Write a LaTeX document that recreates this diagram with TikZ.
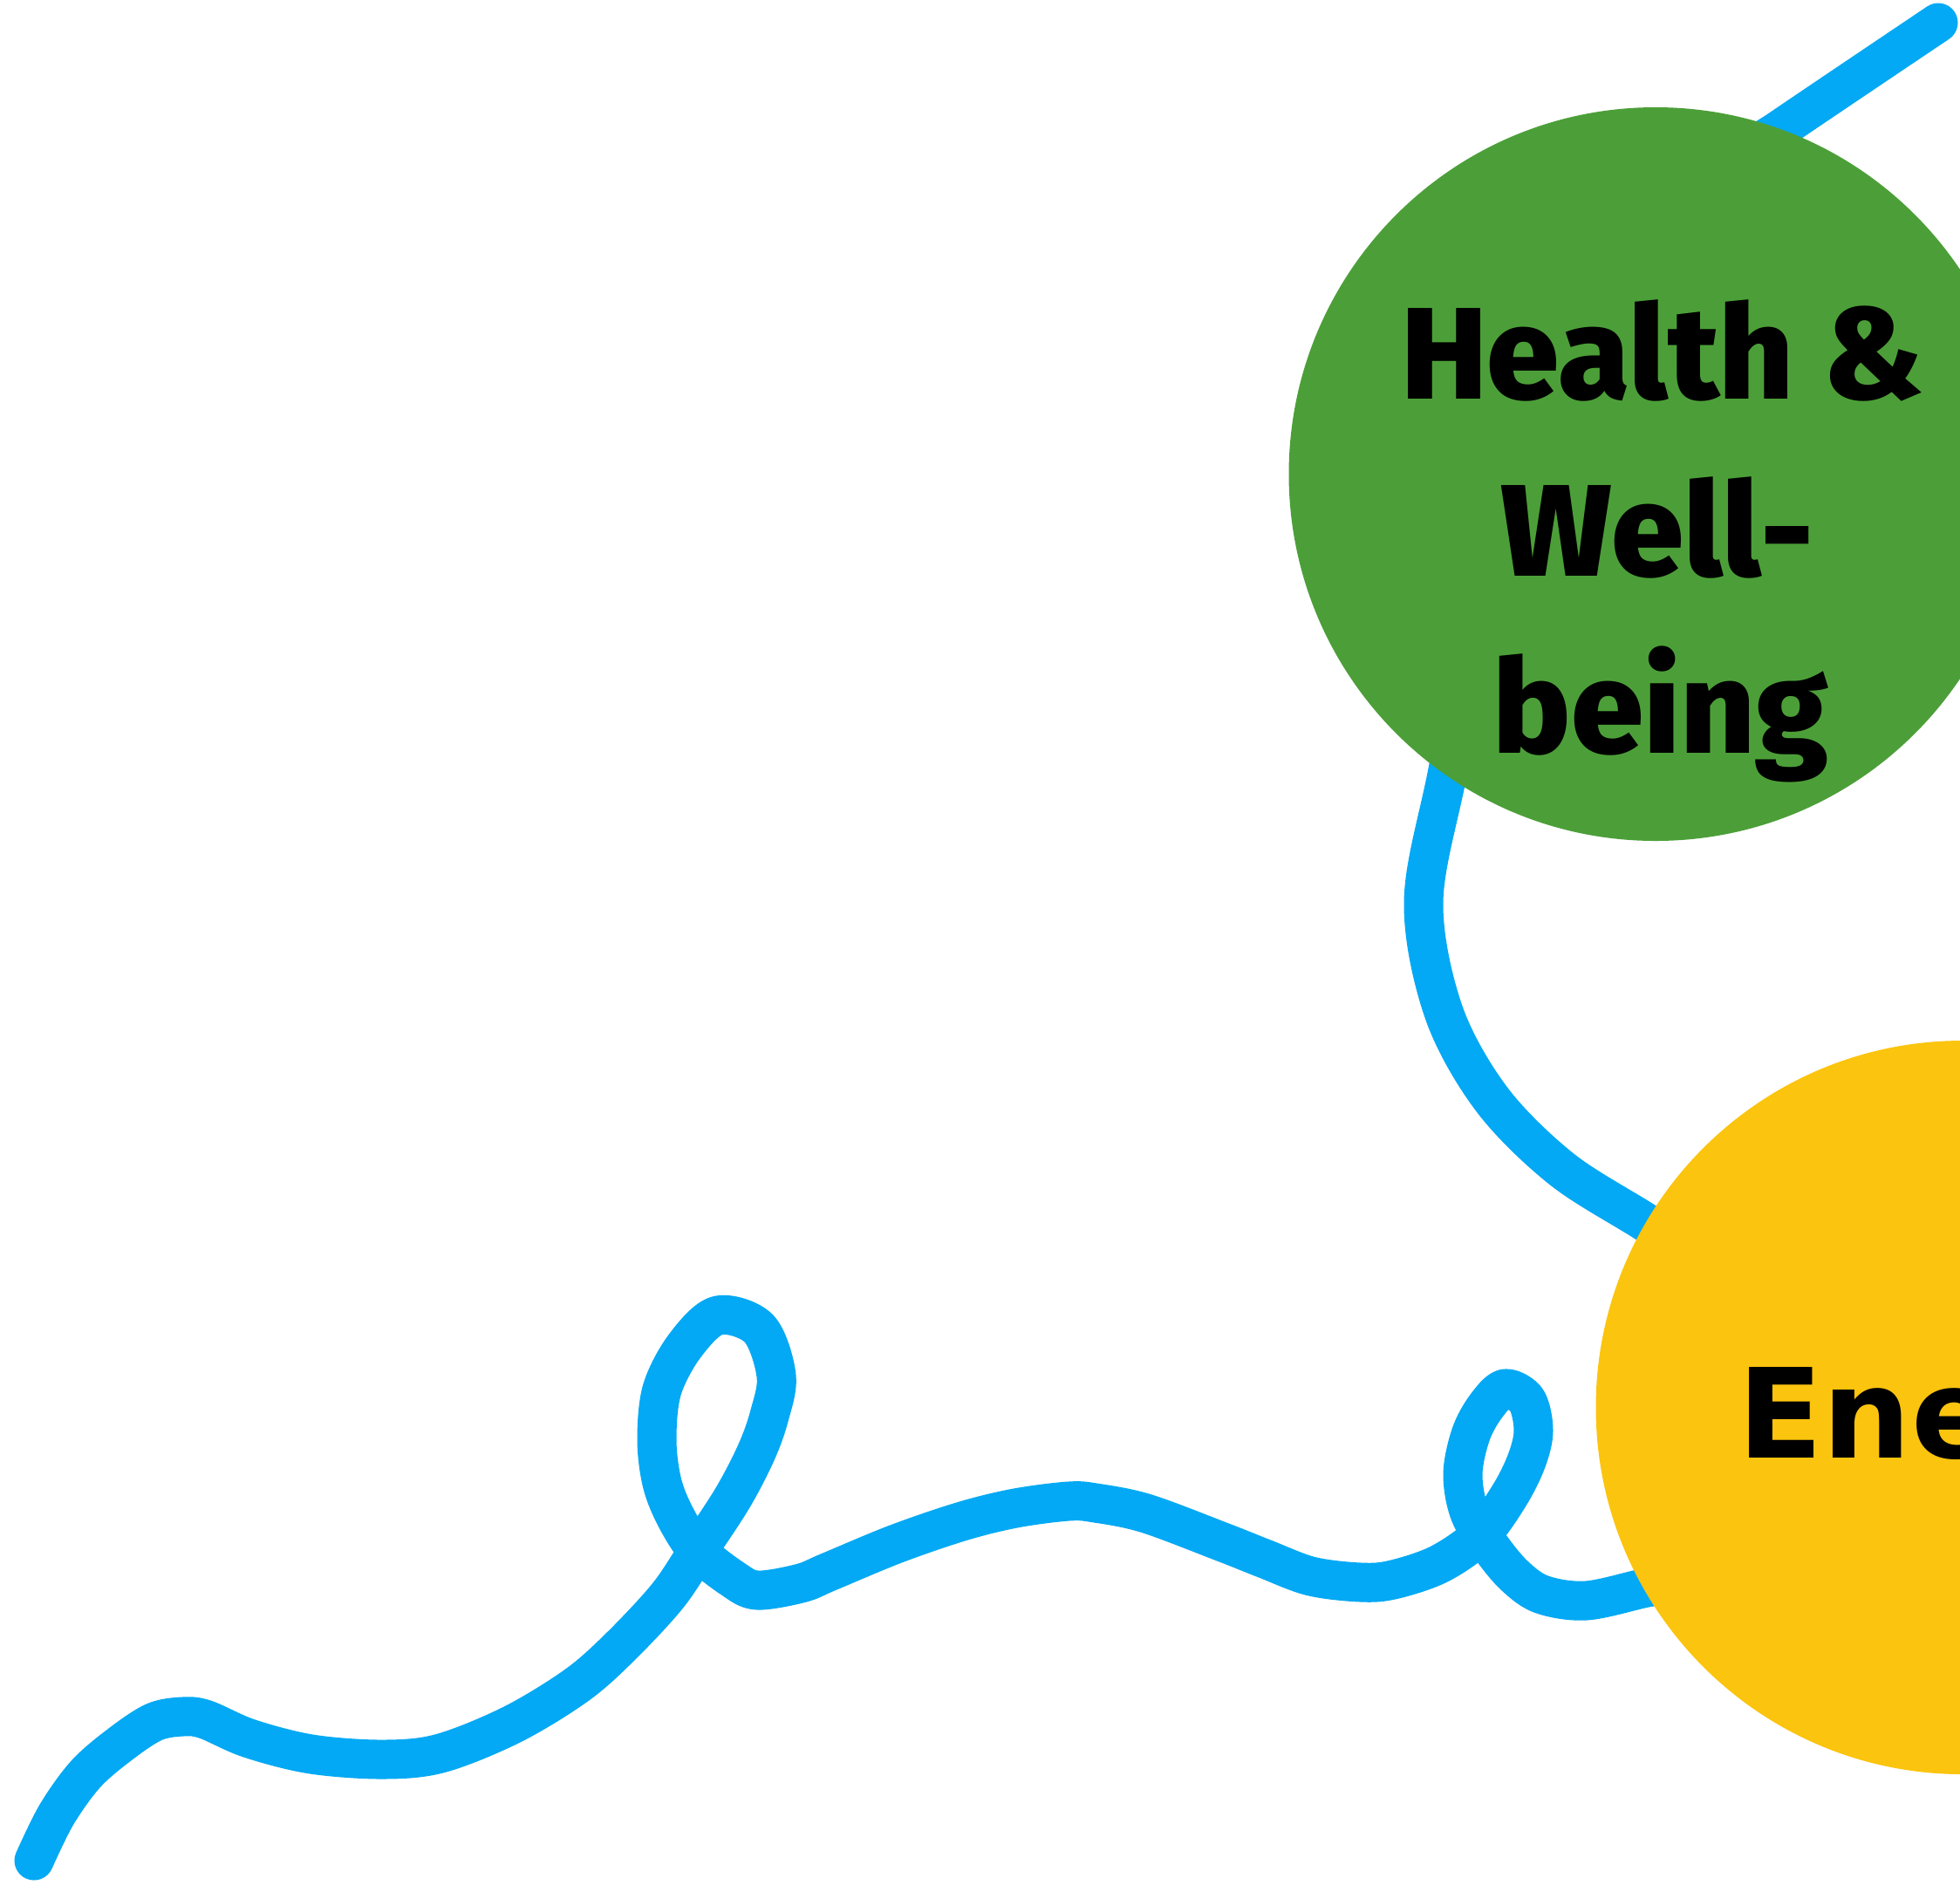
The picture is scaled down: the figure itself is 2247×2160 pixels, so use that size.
\documentclass[tikz,border=0pt]{standalone}
\usepackage{fontspec}
\IfFontExistsTF{Fira Sans ExtraBold}
  {\newfontfamily\hwfont{Fira Sans ExtraBold}\def\hwweight{}}
  {\newfontfamily\hwfont{Fira Sans}\def\hwweight{\bfseries}}
\newfontfamily\enfont{DejaVu Sans}
\definecolor{sdggreen}{HTML}{4C9F38}
\definecolor{sdgyellow}{HTML}{FBC40E}
\definecolor{lineblue}{HTML}{03A9F4}
\tikzset{
  bubble/.style={circle, minimum size=420.5pt, inner sep=0pt, draw=none},
  hwtext/.style={font=\hwfont\hwweight\fontsize{74.8}{90}\selectfont, text=black, inner sep=0pt},
  entext/.style={font=\enfont\bfseries\fontsize{71.3}{86}\selectfont, text=black, inner sep=0pt},
  wire/.style={draw=lineblue, line width=22.5pt, line cap=round, line join=round}
}
\begin{document}
\begin{tikzpicture}[x=0.5pt,y=-0.5pt]
\useasboundingbox (0,0) rectangle (2247,2160);
\clip (0,0) rectangle (2247,2160);
\fill[white] (0,0) rectangle (2247,2160);
% the blue line
\draw[wire] plot[smooth, tension=0.55] coordinates {
 (2222,26) (2041,148) (1930,225) (1790,440) (1700,690) (1659,888) (1632,1034)
 (1655,1160) (1710,1260) (1790,1340) (1886,1401)
 (1960,1450) (2060,1580) (2040,1740) (1950,1805)
 (1883,1821) (1818,1835) (1768,1828) (1737,1807) (1710,1775) (1685,1735)
 (1677,1690) (1686,1645) (1703,1613) (1725,1592) (1750,1605) (1758,1640)
 (1750,1675) (1730,1715) (1697,1760) (1650,1793) (1597,1811) (1560,1814)
 (1503,1807) (1450,1787) (1402,1768) (1314,1735) (1256,1723) (1225,1721)
 (1164,1729) (1103,1744) (1027,1770) (950,1802) (918,1815) (868,1823)
 (840,1810) (800,1778) (775,1740) (759,1700) (753,1650) (759,1593)
 (785,1543) (823,1508) (870,1523) (890,1577) (882,1623) (867,1665)
 (840,1717) (800,1778) (765,1830) (711,1888) (661,1932) (587,1977)
 (505,2010) (439,2017) (357,2011) (286,1993) (235,1971) (209,1968)
 (177,1974) (140,1998) (99,2033) (65,2080) (39,2133)};
% circles
\node[bubble, fill=sdggreen] (health) at (1898,543.5) {};
\node[bubble, fill=sdgyellow] (energy) at (2250,1613.5) {};
% texts
\node[hwtext, anchor=base] (hw1) at (1906,457) {Health \&};
\node[hwtext, anchor=base] (hw2) at (1900,660) {Well-};
\node[hwtext, anchor=base] (hw3) at (1904,863) {being};
\node[entext, anchor=base west] (en1) at (1992,1671) {Energy};
\end{tikzpicture}
\end{document}
